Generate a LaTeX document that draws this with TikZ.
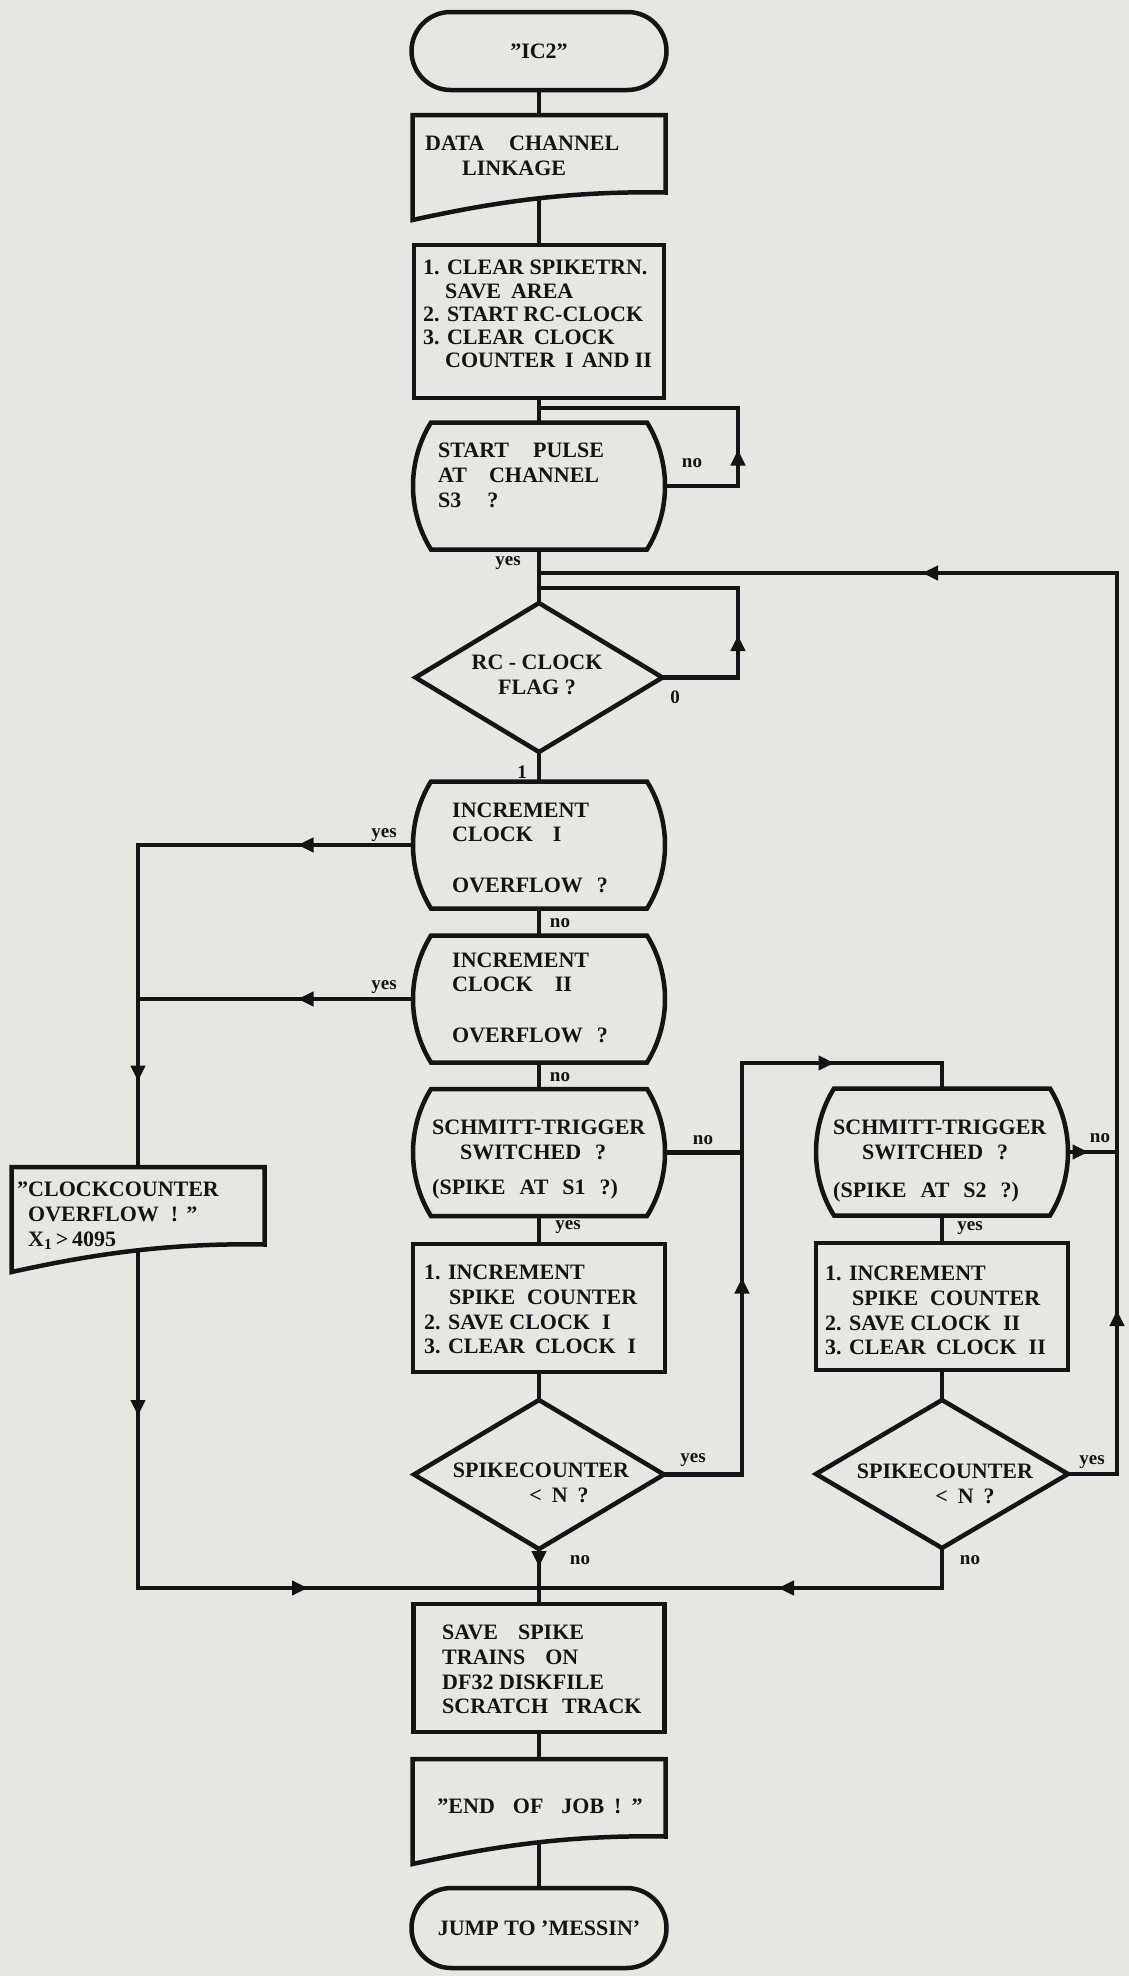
\documentclass[tikz,border=0pt]{standalone}
\usepackage{fontspec}
\setmainfont{Liberation Serif}
\usetikzlibrary{shapes.geometric,decorations.markings,arrows.meta,calc}
\definecolor{paper}{RGB}{231,230,224}
\definecolor{ink}{RGB}{20,20,20}
\newcommand\mybarrel[1]{\draw[ln,shift={(#1.center)}] (-108,-63.5) -- (108,-63.5) .. controls (132,-25) and (132,25) .. (108,63.5) -- (-108,63.5) .. controls (-132,25) and (-132,-25) .. cycle;}
\newcommand\mydocshape[1]{\draw[ln,shift={(#1.center)}] (126.5,25) -- (126.5,-52.5) -- (-126.5,-52.5) -- (-126.5,52.5) .. controls (-60,38) and (20,23) .. cycle;}
\begin{document}
\begin{tikzpicture}[x=1pt,y=-1pt,
  ln/.style={line width=4.5pt, color=ink},
  shp/.style={inner sep=0pt, outer sep=0pt},
  txt/.style={inner sep=0pt, anchor=north west, align=left, text=ink, font=\fontsize{22}{24.5}\selectfont\bfseries},
  ctxt/.style={inner sep=0pt, align=center, text=ink, font=\fontsize{22}{24.5}\selectfont\bfseries},
  lbl/.style={inner sep=0pt, text=ink, font=\fontsize{19}{20}\selectfont\bfseries},
  arrat/.style={postaction={decorate,decoration={markings,mark=at position #1 with {\arrow{Triangle[length=16pt,width=14pt]}}}}}
]
\fill[paper] (0,0) rectangle (1129,1976);
\useasboundingbox (0,0) rectangle (1129,1976);

% ---- main column shapes ----
\node[shp, ctxt, draw=ink, line width=4.5pt, rounded corners=39pt, minimum width=255pt, minimum height=78pt] (ic2) at (539,51) {''IC2''};

\node[shp, minimum width=253pt, minimum height=105pt] (dcl) at (539,167.5) {};
\mydocshape{dcl}
\node[txt] (dcl-t) at (425,136) {DATA\hspace{25pt}CHANNEL\\\hspace*{37pt}LINKAGE};

\node[shp, draw=ink, line width=4.5pt, minimum width=250pt, minimum height=153pt] (box1) at (539,321.5) {};
\node[txt, font=\fontsize{22}{23.3}\selectfont\bfseries] (box1-t) at (423,260) {1. CLEAR SPIKETRN.\\\hspace*{22pt}SAVE\hspace{10pt}AREA\\2. START RC-CLOCK\\3. CLEAR\hspace{10pt}CLOCK\\\hspace*{22pt}COUNTER\hspace{10pt}I\hspace{8pt}AND II};

\node[shp, minimum width=253pt, minimum height=127pt] (sp) at (539,486) {};
\mybarrel{sp}
\node[txt, font=\fontsize{22}{25}\selectfont\bfseries] (sp-t) at (438,443) {START\hspace{24pt}PULSE\\AT\hspace{22pt}CHANNEL\\S3\hspace{26pt}?};

\node[shp, diamond, draw=ink, line width=4.5pt, minimum width=247pt, minimum height=149pt] (rc) at (539,677.5) {};
\node[ctxt] (rc-t) at (537,675) {RC - CLOCK\\FLAG ?};

\node[shp, minimum width=253pt, minimum height=127pt] (c1) at (539,845) {};
\mybarrel{c1}
\node[txt, font=\fontsize{22}{23.5}\selectfont\bfseries] (c1-t) at (452,803) {INCREMENT\\CLOCK\hspace{20pt}I\\[28pt]OVERFLOW\hspace{14pt}?};

\node[shp, minimum width=253pt, minimum height=127pt] (c2) at (539,999) {};
\mybarrel{c2}
\node[txt, font=\fontsize{22}{23.5}\selectfont\bfseries] (c2-t) at (452,953) {INCREMENT\\CLOCK\hspace{22pt}II\\[28pt]OVERFLOW\hspace{14pt}?};

\node[shp, minimum width=253pt, minimum height=127pt] (s1) at (539,1152.5) {};
\mybarrel{s1}
\node[txt, font=\fontsize{22}{25}\selectfont\bfseries] (s1-t) at (432,1120) {SCHMITT-TRIGGER\\\hspace*{28pt}SWITCHED\hspace{14pt}?\\[10pt](SPIKE\hspace{14pt}AT\hspace{14pt}S1\hspace{14pt}?)};

\node[shp, draw=ink, line width=4.5pt, minimum width=252pt, minimum height=128pt] (b2) at (539,1308) {};
\node[txt, font=\fontsize{22}{24.7}\selectfont\bfseries] (b2-t) at (424,1265) {1. INCREMENT\\\hspace*{25pt}SPIKE\hspace{12pt}COUNTER\\2. SAVE CLOCK\hspace{12pt}I\\3. CLEAR\hspace{10pt}CLOCK\hspace{12pt}I};

\node[shp, diamond, draw=ink, line width=4.5pt, minimum width=250pt, minimum height=149pt] (d1) at (539,1474.5) {};
\node[ctxt] (d1-t) at (541,1483) {SPIKECOUNTER\\\hspace*{36pt}<\hspace{10pt}N\hspace{10pt}?};

\node[shp, draw=ink, line width=4.5pt, minimum width=251pt, minimum height=128pt] (save) at (539,1668) {};
\node[txt, font=\fontsize{22}{24.7}\selectfont\bfseries] (save-t) at (442,1625) {SAVE\hspace{20pt}SPIKE\\TRAINS\hspace{20pt}ON\\DF32 DISKFILE\\SCRATCH\hspace{14pt}TRACK};

\node[shp, minimum width=253pt, minimum height=105pt] (eoj) at (539,1811.5) {};
\mydocshape{eoj}
\node[ctxt] (eoj-t) at (540,1806) {''END\hspace{18pt}OF\hspace{18pt}JOB\hspace{10pt}!\hspace{10pt}''};

\node[shp, ctxt, draw=ink, line width=4.5pt, rounded corners=40pt, minimum width=255pt, minimum height=80pt] (jump) at (539,1928) {JUMP TO 'MESSIN'};

% ---- right column ----
\node[shp, minimum width=253pt, minimum height=127pt] (s2) at (942,1152) {};
\mybarrel{s2}
\node[txt, font=\fontsize{22}{25}\selectfont\bfseries] (s2-t) at (833,1120) {SCHMITT-TRIGGER\\\hspace*{29pt}SWITCHED\hspace{14pt}?\\[13pt](SPIKE\hspace{14pt}AT\hspace{14pt}S2\hspace{14pt}?)};

\node[shp, draw=ink, line width=4.5pt, minimum width=252pt, minimum height=127pt] (b3) at (942,1306.5) {};
\node[txt, font=\fontsize{22}{24.7}\selectfont\bfseries] (b3-t) at (825,1266) {1. INCREMENT\\\hspace*{27pt}SPIKE\hspace{12pt}COUNTER\\2. SAVE CLOCK\hspace{12pt}II\\3. CLEAR\hspace{10pt}CLOCK\hspace{12pt}II};

\node[shp, diamond, draw=ink, line width=4.5pt, minimum width=252pt, minimum height=148pt] (d2) at (942,1474) {};
\node[ctxt] (d2-t) at (945,1484) {SPIKECOUNTER\\\hspace*{40pt}<\hspace{10pt}N\hspace{10pt}?};

% ---- left column ----
\node[shp, minimum width=253pt, minimum height=105pt] (cc) at (138,1219.5) {};
\mydocshape{cc}
\node[txt, font=\fontsize{22}{25}\selectfont\bfseries] (cc-t) at (28,1182) {\llap{''}CLOCKCOUNTER\\OVERFLOW\hspace{12pt}!\hspace{8pt}''\\X\textsubscript{1}\,>\,4095};

% ---- straight connectors ----
\draw[ln] (ic2.south) -- (dcl.north);
\draw[ln] ([yshift=22pt]dcl.south) -- (box1.north);
\draw[ln] (box1.south) -- (sp.north);
\draw[ln] (sp.south) -- (rc.north);
\draw[ln] (rc.south) -- (c1.north);
\draw[ln] (c1.south) -- (c2.north);
\draw[ln] (c2.south) -- (s1.north);
\draw[ln] (s1.south) -- (b2.north);
\draw[ln] (b2.south) -- (d1.north);
\draw[ln, arrat=18pt] (d1.south) -- (save.north);
\draw[ln] (save.south) -- (eoj.north);
\draw[ln] ([yshift=22pt]eoj.south) -- (jump.north);
\draw[ln] (s2.south) -- (b3.north);
\draw[ln] (b3.south) -- (d2.north);

% ---- loops ----
\coordinate (spa) at (738,486);
\coordinate (spb) at (738,408);
\coordinate (spc) at (539,408);
\draw[ln, arrat=109pt] (sp.east) -- (spa) -- (spb) -- (spc);

\coordinate (rca) at (738,677.5);
\coordinate (rcb) at (738,588);
\coordinate (rcc) at (539,588);
\draw[ln, arrat=118pt] (rc.east) -- (rca) -- (rcb) -- (rcc);

\coordinate (rla) at (1117,1474);
\coordinate (rlb) at (1117,573);
\coordinate (rlc) at (539,573);
\draw[ln, arrat=213pt, arrat=1145pt] (d2.east) -- (rla) -- (rlb) -- (rlc);

\coordinate (s2n) at (1117,1152);
\draw[ln, arrat=20pt] (s2.east) -- (s2n);

\coordinate (s1n) at (742,1152.5);
\draw[ln] (s1.east) -- (s1n);

\coordinate (mla) at (742,1474.5);
\coordinate (mlb) at (742,1063);
\coordinate (mlc) at (942,1063);
\draw[ln, arrat=275pt, arrat=582pt] (d1.east) -- (mla) -- (mlb) -- (mlc) -- (s2.north);

\coordinate (lla) at (138,845);
\draw[ln, arrat=115pt, arrat=511pt] (c1.west) -- (lla) -- (cc.north);
\coordinate (llb) at (138,999);
\draw[ln, arrat=115pt] (c2.west) -- (llb);

\coordinate (llc) at (138,1588);
\coordinate (mj) at (539,1588);
\draw[ln, arrat=166pt, arrat=508pt] ([yshift=22pt]cc.south) -- (llc) -- (mj);
\coordinate (dnb) at (942,1588);
\draw[ln, arrat=204pt] (d2.south) -- (dnb) -- (mj);

% ---- labels ----
\node[lbl] (l-spno) at (692,463) {no};
\node[lbl] (l-spyes) at (508,563) {yes};
\node[lbl] (l-rc0) at (675,697) {0};
\node[lbl] (l-rc1) at (522,772) {1};
\node[lbl] (l-c1yes) at (384,835) {yes};
\node[lbl] (l-c2yes) at (384,987) {yes};
\node[lbl] (l-c1no) at (560,923) {no};
\node[lbl] (l-c2no) at (560,1077) {no};
\node[lbl] (l-s1no) at (703,1140) {no};
\node[lbl] (l-s1yes) at (568,1227) {yes};
\node[lbl] (l-d1yes) at (693,1460) {yes};
\node[lbl] (l-d1no) at (580,1560) {no};
\node[lbl] (l-s2no) at (1100,1138) {no};
\node[lbl] (l-s2yes) at (970,1228) {yes};
\node[lbl] (l-d2yes) at (1092,1462) {yes};
\node[lbl] (l-d2no) at (970,1560) {no};
\end{tikzpicture}
\end{document}
